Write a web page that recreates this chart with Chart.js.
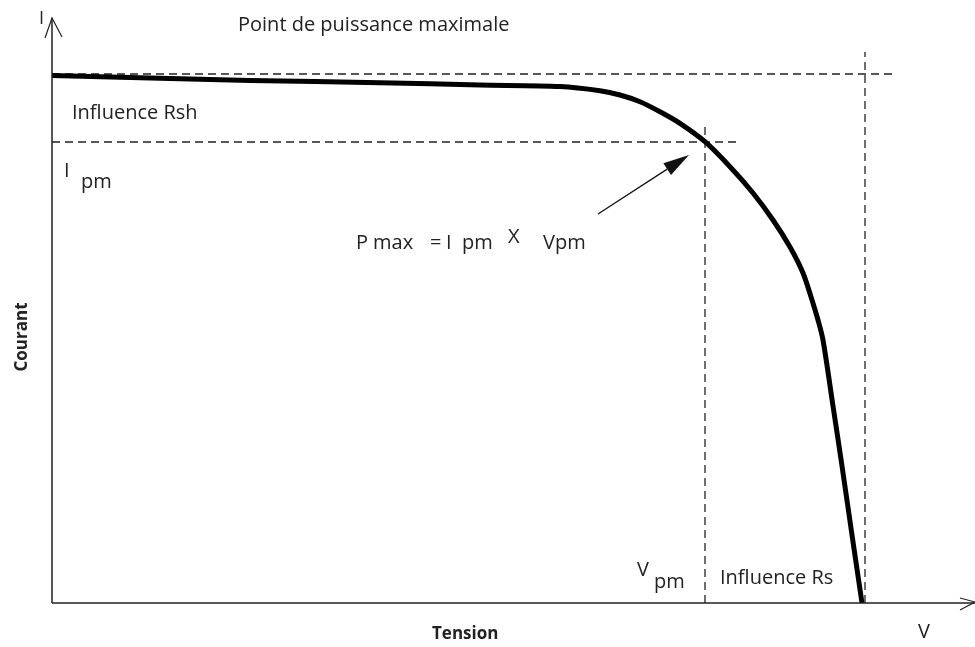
<!DOCTYPE html>
<html>
<head>
<meta charset="utf-8">
<script src="https://cdn.jsdelivr.net/npm/chart.js@4.4.1/dist/chart.umd.min.js"></script>
<style>
  html, body { margin: 0; padding: 0; background: #fff; }
  #wrap { width: 975px; height: 647px; }
</style>
</head>
<body>
<div id="wrap"><canvas id="c" width="975" height="647"></canvas></div>
<script>
// I-V curve (arbitrary units)
const tension = [0, 9.8, 19.8, 32.8, 42.8, 50.8, 54.8, 56.8, 58.8, 60.8, 62.8, 65.3, 67.8, 70.1, 72.1, 73.8, 75.1, 76.0, 76.6, 77.1, 78.1, 79.0, 80.0, 81.0];
const courant = [52.75, 52.5, 52.25, 52.03, 51.8, 51.65, 51.23, 50.8, 50.13, 49.13, 47.97, 46.13, 43.63, 41.0, 38.3, 35.6, 33.0, 30.3, 28.3, 26.3, 19.7, 13.7, 6.8, 0];

// reference levels
const iscLevel = 52.9;   // top dashed line
const iscEnd = 84.1;
const vocLevel = 81.3;   // vertical dashed at Voc
const vocTop = 55.1;
const ipmLevel = 46.1;   // Ipm dashed line
const ipmEnd = 68.8;
const vpmLevel = 65.3;   // Vpm dashed line
const vpmTop = 48.0;

const xMax = 92.3;
const yMax = 58.8;

// arrow pointing at the max power point
const arrowFrom = [54.6, 38.9];
const arrowTo = [63.7, 44.8];

const FONT = '"Open Sans", sans-serif';
const labels = [
  { text: 'I', v: -1.3, i: 58.4, size: 18 },
  { text: 'Point de puissance maximale', v: 18.6, i: 57.8, size: 20 },
  { text: 'Influence Rsh', v: 2.0, i: 49.0, size: 20 },
  { text: 'I', v: 1.2, i: 43.2, size: 20 },
  { text: 'pm', v: 2.9, i: 42.1, size: 20 },
  { text: 'P', v: 30.4, i: 36.0, size: 20 },
  { text: 'max', v: 32.1, i: 36.0, size: 20 },
  { text: '=', v: 37.8, i: 36.0, size: 20 },
  { text: 'I', v: 39.4, i: 36.0, size: 20 },
  { text: 'pm', v: 41.0, i: 36.0, size: 20 },
  { text: 'X', v: 45.6, i: 36.6, size: 20 },
  { text: 'Vpm', v: 49.1, i: 36.0, size: 20 },
  { text: 'V', v: 58.5, i: 3.3, size: 20 },
  { text: 'pm', v: 60.2, i: 2.1, size: 20 },
  { text: 'Influence Rs', v: 66.8, i: 2.5, size: 20 },
  { text: 'Tension', v: 38.0, i: -3.1, size: 17, bold: true },
  { text: 'V', v: 86.6, i: -2.9, size: 20 }
];

const dashed = (pts) => ({
  data: pts,
  borderColor: '#222',
  borderWidth: 1.3,
  borderDash: [8, 5],
  pointRadius: 0,
  fill: false
});

const decor = {
  id: 'decor',
  afterDraw(chart) {
    const ctx = chart.ctx;
    const x = chart.scales.x, y = chart.scales.y;
    const a = chart.chartArea;
    ctx.save();
    // axes
    ctx.strokeStyle = '#222';
    ctx.lineWidth = 1.5;
    ctx.beginPath();
    ctx.moveTo(a.left, a.bottom);
    ctx.lineTo(a.left, a.top + 3);
    ctx.moveTo(a.left, a.bottom);
    ctx.lineTo(a.right, a.bottom);
    ctx.stroke();
    ctx.lineWidth = 1.2;
    ctx.beginPath();
    ctx.moveTo(a.left - 7, a.top + 23);
    ctx.lineTo(a.left, a.top + 3);
    ctx.lineTo(a.left + 10, a.top + 22);
    ctx.moveTo(a.right - 15, a.bottom - 5);
    ctx.lineTo(a.right, a.bottom - 1);
    ctx.lineTo(a.right - 15, a.bottom + 7);
    ctx.stroke();

    // arrow to Pmax
    const x0 = x.getPixelForValue(arrowFrom[0]), y0 = y.getPixelForValue(arrowFrom[1]);
    const x1 = x.getPixelForValue(arrowTo[0]), y1 = y.getPixelForValue(arrowTo[1]);
    const ang = Math.atan2(y1 - y0, x1 - x0);
    const len = 26, half = 7;
    const bx = x1 - len * Math.cos(ang), by = y1 - len * Math.sin(ang);
    ctx.lineWidth = 1.3;
    ctx.strokeStyle = '#111';
    ctx.beginPath();
    ctx.moveTo(x0, y0);
    ctx.lineTo(bx, by);
    ctx.stroke();
    ctx.fillStyle = '#111';
    ctx.beginPath();
    ctx.moveTo(x1, y1);
    ctx.lineTo(bx + half * Math.sin(ang), by - half * Math.cos(ang));
    ctx.lineTo(bx - half * Math.sin(ang), by + half * Math.cos(ang));
    ctx.closePath();
    ctx.fill();

    // texts
    ctx.fillStyle = '#222';
    ctx.textBaseline = 'middle';
    ctx.textAlign = 'left';
    labels.forEach(l => {
      ctx.font = (l.bold ? 'bold ' : '') + l.size + 'px ' + FONT;
      ctx.fillText(l.text, x.getPixelForValue(l.v), y.getPixelForValue(l.i));
    });
    ctx.save();
    ctx.font = 'bold 17px ' + FONT;
    ctx.textAlign = 'center';
    ctx.translate(x.getPixelForValue(-3.0), y.getPixelForValue(26.6));
    ctx.rotate(-Math.PI / 2);
    ctx.fillText('Courant', 0, 0);
    ctx.restore();
    ctx.restore();
  }
};

new Chart(document.getElementById('c'), {
  type: 'line',
  data: {
    datasets: [
      {
        data: tension.map((v, k) => ({ x: v, y: courant[k] })),
        borderColor: '#000',
        borderWidth: 5,
        pointRadius: 0,
        tension: 0.3,
        fill: false
      },
      dashed([{ x: 0, y: iscLevel }, { x: iscEnd, y: iscLevel }]),
      dashed([{ x: vocLevel, y: 0 }, { x: vocLevel, y: vocTop }]),
      dashed([{ x: 0, y: ipmLevel }, { x: ipmEnd, y: ipmLevel }]),
      dashed([{ x: vpmLevel, y: 0 }, { x: vpmLevel, y: vpmTop }])
    ]
  },
  options: {
    responsive: false,
    animation: false,
    layout: { padding: { left: 52, right: 0, top: 15, bottom: 44 } },
    plugins: { legend: { display: false }, tooltip: { enabled: false } },
    scales: {
      x: { type: 'linear', min: 0, max: xMax, display: false },
      y: { type: 'linear', min: 0, max: yMax, display: false }
    }
  },
  plugins: [decor]
});
</script>
</body>
</html>
